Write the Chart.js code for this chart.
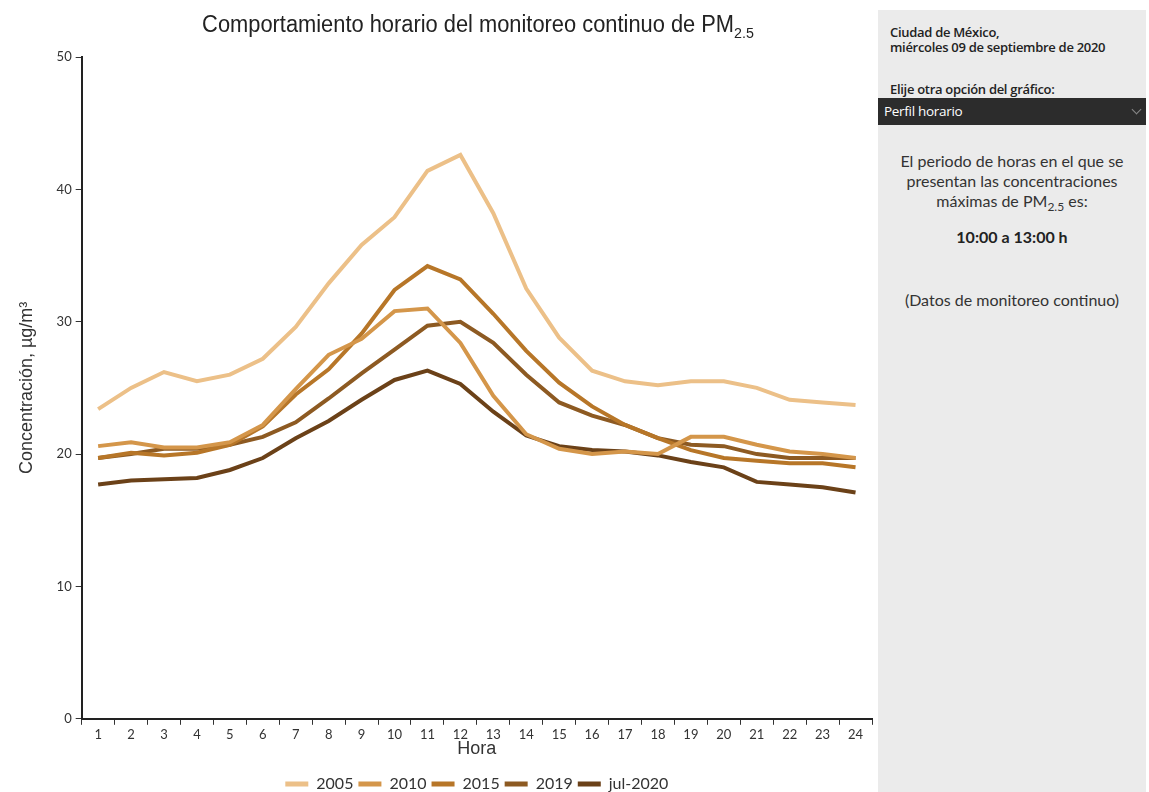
<!DOCTYPE html>
<html lang="es">
<head>
<meta charset="utf-8">
<title>Perfil horario PM2.5</title>
<script src="https://cdn.jsdelivr.net/npm/chart.js@4.4.1/dist/chart.umd.min.js"></script>
<style>
    html, body { margin: 0; padding: 0; background: #fff; }
    body { width: 1149px; height: 792px; position: relative; overflow: hidden; font-family: "Lato", "Open Sans", sans-serif; color: #333; }
    #titulo { position: absolute; left: 0; top: 11px; width: 956px; text-align: center; font-family: "Liberation Sans", sans-serif; font-size: 23px; color: #222; transform: scaleX(0.95); }
    #titulo sub { font-size: 15px; vertical-align: -6px; line-height: 0; }
    #grafico { position: absolute; left: 0; top: 0; width: 878px; height: 802px; }
    #panel { position: absolute; left: 878px; top: 10px; width: 268px; height: 782px; background: #ebebeb; }
    .fecha { position: absolute; left: 12px; top: 15px; font-family: "Open Sans", sans-serif; font-size: 13px; font-weight: 600; letter-spacing: -0.3px; line-height: 15px; color: #222; }
    .elige { position: absolute; left: 12px; top: 70px; font-family: "Open Sans", sans-serif; font-size: 13px; font-weight: 600; letter-spacing: -0.3px; color: #222; }
    .selector { position: absolute; left: 0; top: 88px; width: 268px; height: 27px; background: #2c2c2c; color: #fff; font-family: "Open Sans", sans-serif; font-size: 13.5px; line-height: 27px; }
    .selector span { position: absolute; left: 6px; letter-spacing: -0.3px; }
    .selector i { position: absolute; right: 6px; top: 8px; width: 6px; height: 6px; border-right: 1px solid #888; border-bottom: 1px solid #888; transform: rotate(45deg); }
    .texto { position: absolute; left: 0; top: 141px; width: 268px; text-align: center; font-family: "Lato", sans-serif; font-size: 16px; line-height: 20px; color: #333; }
    .texto sub { font-size: 12px; vertical-align: -4px; line-height: 0; }
    .horas { position: absolute; left: 0; top: 217px; width: 268px; text-align: center; font-family: "Lato", sans-serif; font-size: 16px; font-weight: bold; color: #222; }
    .datos { position: absolute; left: 0; top: 280px; width: 268px; text-align: center; font-family: "Lato", sans-serif; font-size: 16px; color: #333; }
</style>
</head>
<body>
<canvas id="grafico" width="878" height="802"></canvas>
<div id="titulo">Comportamiento horario del monitoreo continuo de PM<sub>2.5</sub></div>
<div id="panel">
    <div class="fecha">Ciudad de México,<br>miércoles 09 de septiembre de 2020</div>
    <div class="elige">Elije otra opción del gráfico:</div>
    <div class="selector"><span>Perfil horario</span><i></i></div>
    <div class="texto">El periodo de horas en el que se<br>presentan las concentraciones<br>máximas de PM<sub>2.5</sub> es:</div>
    <div class="horas">10:00 a 13:00 h</div>
    <div class="datos">(Datos de monitoreo continuo)</div>
</div>
<script>
// horas del día
const horas = ['1', '2', '3', '4', '5', '6', '7', '8', '9', '10', '11', '12',
               '13', '14', '15', '16', '17', '18', '19', '20', '21', '22', '23', '24'];

// concentraciones promedio por hora (µg/m3)
const pm2005 = [23.4, 25.0, 26.2, 25.5, 26.0, 27.2, 29.6, 32.9, 35.8, 37.9, 41.4, 42.6,
                38.2, 32.5, 28.8, 26.3, 25.5, 25.2, 25.5, 25.5, 25.0, 24.1, 23.9, 23.7];
const pm2010 = [20.6, 20.9, 20.5, 20.5, 20.9, 22.2, 24.9, 27.5, 28.7, 30.8, 31.0, 28.4,
                24.4, 21.5, 20.4, 20.0, 20.2, 20.0, 21.3, 21.3, 20.7, 20.2, 20.0, 19.7];
const pm2015 = [19.7, 20.1, 19.9, 20.1, 20.7, 22.1, 24.5, 26.4, 29.1, 32.4, 34.2, 33.2,
                30.6, 27.8, 25.4, 23.6, 22.2, 21.2, 20.3, 19.7, 19.5, 19.3, 19.3, 19.0];
const pm2019 = [19.7, 20.0, 20.4, 20.4, 20.7, 21.3, 22.4, 24.2, 26.1, 27.9, 29.7, 30.0,
                28.4, 26.0, 23.9, 22.9, 22.2, 21.2, 20.7, 20.6, 20.0, 19.7, 19.7, 19.7];
const pmJul2020 = [17.7, 18.0, 18.1, 18.2, 18.8, 19.7, 21.2, 22.5, 24.1, 25.6, 26.3, 25.3,
                   23.2, 21.4, 20.6, 20.3, 20.2, 19.9, 19.4, 19.0, 17.9, 17.7, 17.5, 17.1];

const series = ['2005', '2010', '2015', '2019', 'jul-2020'];
const colores = ['#ecc088', '#d4964a', '#b77628', '#8d5a22', '#6b4118'];
const valores = [pm2005, pm2010, pm2015, pm2019, pmJul2020];

const fuenteEje = { family: 'Lato, "Open Sans", sans-serif', size: 13 };
const fuenteTitulo = '"Liberation Sans", Arial, sans-serif';

// centra la leyenda sobre el área de trazado, no sobre todo el canvas
const leyendaCentrada = {
    id: 'leyendaCentrada',
    afterLayout(chart) {
        chart.legend.left = chart.chartArea.left;
        chart.legend.right = chart.chartArea.right;
    }
};

new Chart(document.getElementById('grafico'), {
    type: 'line',
    data: {
        labels: horas,
        datasets: series.map((s, i) => ({
            label: s,
            data: valores[i],
            borderColor: colores[i],
            backgroundColor: colores[i],
            borderWidth: 4,
            pointRadius: 0,
            tension: 0,
            fill: false
        }))
    },
    options: {
        responsive: false,
        animation: false,
        layout: { padding: { top: 57, left: 16, right: 6, bottom: 0 } },
        plugins: {
            title: { display: false },
            tooltip: { enabled: false },
            legend: {
                position: 'bottom',
                labels: {
                    color: '#333',
                    font: { family: 'Lato, sans-serif', size: 16 },
                    boxWidth: 23,
                    boxHeight: 5,
                    padding: 5,
                    generateLabels(chart) {
                        return Chart.defaults.plugins.legend.labels.generateLabels(chart)
                            .map(l => Object.assign(l, { lineWidth: 0 }));
                    }
                }
            }
        },
        scales: {
            x: {
                offset: true,
                grid: { display: true, drawOnChartArea: false, drawTicks: true, tickLength: 6, color: '#333', offset: true },
                border: { color: '#222', width: 2 },
                ticks: { color: '#333', font: fuenteEje, maxRotation: 0, autoSkip: false, padding: 2 },
                title: { display: true, text: 'Hora', color: '#333', font: { family: fuenteTitulo, size: 18 }, padding: { top: -6, bottom: 11 } }
            },
            y: {
                min: 0,
                max: 50,
                ticks: { stepSize: 10, color: '#333', font: fuenteEje, padding: 4 },
                grid: { display: true, drawOnChartArea: false, drawTicks: true, tickLength: 6, color: '#333' },
                border: { color: '#222', width: 2 },
                title: { display: true, text: 'Concentración, µg/m³', color: '#333', font: { family: fuenteTitulo, size: 18 }, padding: { top: 0, bottom: 15 } }
            }
        }
    },
    plugins: [leyendaCentrada]
});
</script>
</body>
</html>
